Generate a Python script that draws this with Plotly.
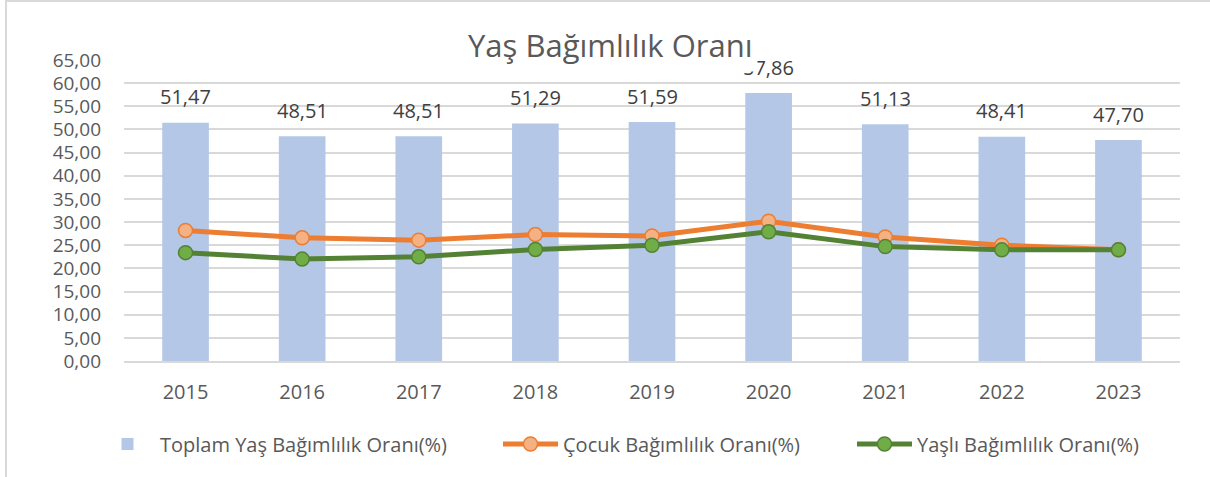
import plotly.graph_objects as go

years = ["2015", "2016", "2017", "2018", "2019", "2020", "2021", "2022", "2023"]
toplam = [51.47, 48.51, 48.51, 51.29, 51.59, 57.86, 51.13, 48.41, 47.70]
cocuk = [28.2, 26.6, 26.1, 27.3, 27.0, 30.2, 26.8, 25.0, 24.0]
yasli = [23.4, 22.0, 22.5, 24.1, 25.0, 27.9, 24.7, 24.0, 24.0]

title_text = "Yaş Bağımlılık Oranı"
names = ["Toplam Yaş Bağımlılık Oranı(%)", "Çocuk Bağımlılık Oranı(%)", "Yaşlı Bağımlılık Oranı(%)"]

FONT = "Open Sans, Liberation Sans, sans-serif"
TXT = "#595959"
L, R, T, B, W, H = 124, 30, 60, 116, 1210, 477
PW, PH = W - L - R, H - T - B


def px(xp):
    return (xp - L) / PW


def py(yp):
    return (H - B - yp) / PH


fig = go.Figure()
fig.add_trace(go.Bar(x=years, y=toplam, name=names[0], marker=dict(color="#b4c7e7", line_width=0),
                     legend="legend"))
fig.add_trace(go.Scatter(x=years, y=cocuk, name=names[1], mode="lines+markers",
                         line=dict(color="#ed7d31", width=5),
                         marker=dict(size=14, color="#f4b183", line=dict(color="#ed7d31", width=1.5)),
                         legend="legend2"))
fig.add_trace(go.Scatter(x=years, y=yasli, name=names[2], mode="lines+markers",
                         line=dict(color="#548235", width=5),
                         marker=dict(size=14, color="#70ad47", line=dict(color="#548235", width=1.5)),
                         legend="legend3"))

annotations = []
for i, v in enumerate(toplam):
    annotations.append(dict(x=i, y=v, xref="x", yref="y", text=f"{v:.2f}".replace(".", ","),
                            showarrow=False, yshift=26, font=dict(family=FONT, size=20, color="#404040")))
annotations.append(dict(xref="paper", yref="paper", x=px(610), y=py(45),
                        xanchor="center", yanchor="middle", text=title_text, showarrow=False,
                        bgcolor="white", borderpad=5, font=dict(family=FONT, size=31, color=TXT)))

leg_common = dict(orientation="h", xanchor="left", yanchor="middle", y=py(444), itemwidth=55,
                  font=dict(family=FONT, size=20, color=TXT), bgcolor="rgba(0,0,0,0)")

fig.update_layout(
    width=W, height=H,
    margin=dict(l=L, r=R, t=T, b=B, autoexpand=False),
    paper_bgcolor="white", plot_bgcolor="white",
    separators=",.",
    bargap=0.6,
    font=dict(family=FONT, size=20, color=TXT),
    showlegend=True,
    legend=dict(x=px(160 - 65), **leg_common),
    legend2=dict(x=px(563 - 65), **leg_common),
    legend3=dict(x=px(917 - 65), **leg_common),
    annotations=annotations,
    shapes=[dict(type="rect", xref="paper", yref="paper",
                 x0=px(6), x1=px(1216), y0=py(490), y1=py(1),
                 line=dict(color="#d9d9d9", width=2), fillcolor="rgba(0,0,0,0)", layer="below")],
)
fig.update_xaxes(type="category", showgrid=False, showline=True, linecolor="#d9d9d9", linewidth=1.5,
                 ticks="", automargin=False, ticklabelstandoff=12,
                 tickfont=dict(family=FONT, size=20, color=TXT))
fig.update_yaxes(range=[0, 65], dtick=5, tickformat=".2f", showgrid=True, gridcolor="#d9d9d9",
                 gridwidth=1.5, zeroline=False, showline=False, ticks="", automargin=False,
                 ticklabelstandoff=22, tickfont=dict(family=FONT, size=19, color=TXT))

fig.write_html("out.html", config={"displayModeBar": False},
               post_script="document.body.style.margin='0';")
